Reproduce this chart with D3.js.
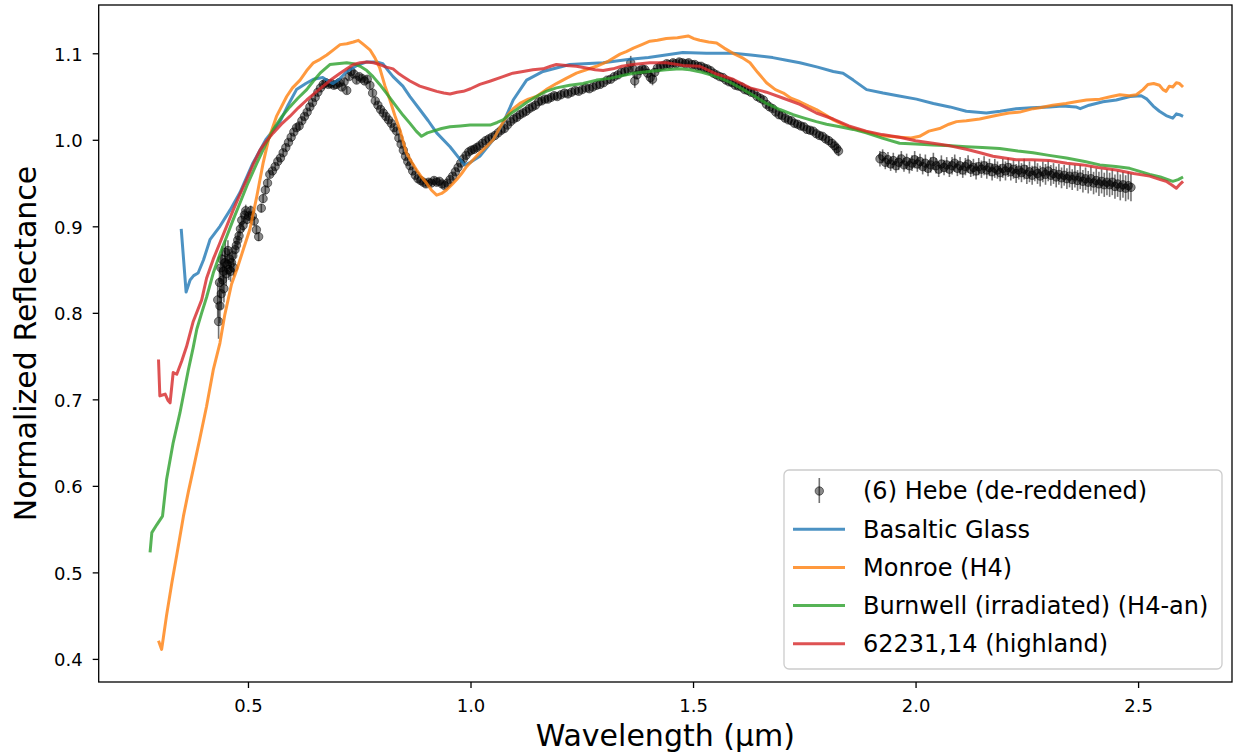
<!DOCTYPE html>
<html>
<head>
<meta charset="utf-8">
<script src="https://cdn.jsdelivr.net/npm/d3@7"></script>
<style>
  body { margin: 0; background: #fff; }
  svg { display: block; }
  text { font-family: "DejaVu Sans", sans-serif; fill: #000; }
</style>
</head>
<body>
<script>
// spectra: [wavelength (um), normalized reflectance]
var basalticGlass = [[0.350,0.897],[0.361,0.824],[0.370,0.838],[0.378,0.843],[0.388,0.846],[0.400,0.861],[0.415,0.885],[0.437,0.900],[0.460,0.919],[0.482,0.939],[0.511,0.973],[0.540,1.000],[0.572,1.021],[0.590,1.040],[0.609,1.058],[0.630,1.065],[0.647,1.070],[0.668,1.072],[0.680,1.068],[0.691,1.065],[0.705,1.070],[0.722,1.079],[0.745,1.086],[0.767,1.090],[0.789,1.090],[0.803,1.088],[0.815,1.080],[0.826,1.073],[0.848,1.062],[0.864,1.050],[0.886,1.035],[0.905,1.022],[0.924,1.008],[0.954,0.992],[0.980,0.975],[0.987,0.971],[1.000,0.974],[1.021,0.981],[1.051,1.000],[1.073,1.019],[1.096,1.046],[1.126,1.069],[1.163,1.079],[1.223,1.087],[1.298,1.089],[1.358,1.093],[1.400,1.095],[1.477,1.101],[1.530,1.100],[1.590,1.100],[1.630,1.098],[1.679,1.095],[1.710,1.092],[1.740,1.089],[1.780,1.084],[1.815,1.079],[1.837,1.077],[1.860,1.069],[1.890,1.058],[1.927,1.054],[1.960,1.051],[2.002,1.047],[2.040,1.042],[2.077,1.038],[2.114,1.033],[2.159,1.031],[2.190,1.033],[2.226,1.036],[2.260,1.037],[2.301,1.038],[2.330,1.039],[2.360,1.038],[2.370,1.036],[2.390,1.040],[2.421,1.044],[2.451,1.046],[2.482,1.050],[2.507,1.051],[2.520,1.047],[2.534,1.039],[2.548,1.033],[2.563,1.028],[2.578,1.025],[2.586,1.030],[2.593,1.029],[2.601,1.027]];

var monroe = [[0.299,0.421],[0.306,0.411],[0.310,0.425],[0.317,0.450],[0.329,0.488],[0.340,0.520],[0.355,0.565],[0.366,0.593],[0.377,0.619],[0.392,0.655],[0.407,0.692],[0.422,0.734],[0.437,0.765],[0.448,0.798],[0.463,0.833],[0.475,0.850],[0.490,0.874],[0.504,0.896],[0.520,0.935],[0.534,0.973],[0.546,1.000],[0.564,1.027],[0.587,1.050],[0.600,1.060],[0.617,1.069],[0.632,1.080],[0.647,1.089],[0.662,1.093],[0.677,1.098],[0.692,1.104],[0.707,1.110],[0.722,1.111],[0.737,1.113],[0.748,1.115],[0.760,1.110],[0.774,1.104],[0.785,1.095],[0.796,1.083],[0.808,1.062],[0.819,1.046],[0.830,1.028],[0.841,1.012],[0.856,0.985],[0.868,0.974],[0.879,0.965],[0.890,0.957],[0.901,0.950],[0.912,0.942],[0.924,0.936],[0.935,0.938],[0.946,0.942],[0.958,0.948],[0.969,0.954],[0.980,0.961],[0.991,0.969],[1.006,0.977],[1.021,0.985],[1.036,0.992],[1.051,1.000],[1.066,1.014],[1.081,1.027],[1.096,1.036],[1.111,1.042],[1.130,1.047],[1.148,1.050],[1.170,1.058],[1.193,1.065],[1.215,1.071],[1.238,1.077],[1.260,1.081],[1.283,1.085],[1.310,1.091],[1.336,1.099],[1.350,1.102],[1.366,1.106],[1.385,1.110],[1.403,1.114],[1.420,1.115],[1.440,1.117],[1.465,1.118],[1.489,1.120],[1.502,1.117],[1.515,1.115],[1.535,1.113],[1.553,1.112],[1.570,1.106],[1.590,1.100],[1.610,1.095],[1.628,1.089],[1.645,1.078],[1.665,1.066],[1.685,1.058],[1.703,1.054],[1.720,1.048],[1.740,1.044],[1.760,1.039],[1.777,1.035],[1.800,1.028],[1.815,1.023],[1.840,1.017],[1.860,1.013],[1.890,1.009],[1.920,1.005],[1.964,1.003],[1.990,1.002],[2.009,1.004],[2.030,1.010],[2.054,1.013],[2.075,1.018],[2.092,1.021],[2.114,1.022],[2.144,1.024],[2.170,1.027],[2.189,1.029],[2.210,1.031],[2.234,1.032],[2.264,1.036],[2.279,1.037],[2.308,1.040],[2.338,1.042],[2.360,1.044],[2.384,1.046],[2.414,1.047],[2.440,1.050],[2.459,1.052],[2.480,1.051],[2.496,1.052],[2.511,1.058],[2.522,1.064],[2.535,1.065],[2.548,1.063],[2.556,1.058],[2.563,1.056],[2.570,1.062],[2.578,1.061],[2.586,1.066],[2.593,1.065],[2.601,1.061]];

var burnwell = [[0.280,0.523],[0.284,0.546],[0.295,0.555],[0.308,0.565],[0.317,0.607],[0.332,0.650],[0.347,0.684],[0.355,0.705],[0.366,0.734],[0.377,0.760],[0.385,0.781],[0.396,0.800],[0.407,0.818],[0.422,0.846],[0.437,0.868],[0.452,0.888],[0.467,0.908],[0.482,0.927],[0.500,0.950],[0.520,0.973],[0.540,0.995],[0.557,1.012],[0.575,1.026],[0.594,1.038],[0.612,1.048],[0.632,1.058],[0.647,1.068],[0.662,1.077],[0.684,1.087],[0.700,1.088],[0.722,1.089],[0.737,1.088],[0.752,1.085],[0.767,1.080],[0.781,1.073],[0.796,1.064],[0.811,1.054],[0.834,1.038],[0.849,1.028],[0.864,1.019],[0.878,1.010],[0.890,1.004],[0.903,1.008],[0.916,1.010],[0.935,1.013],[0.954,1.015],[0.977,1.016],[0.999,1.017],[1.022,1.017],[1.044,1.017],[1.060,1.020],[1.073,1.023],[1.090,1.030],[1.104,1.035],[1.126,1.043],[1.148,1.050],[1.170,1.056],[1.193,1.060],[1.223,1.063],[1.253,1.065],[1.283,1.069],[1.313,1.071],[1.340,1.074],[1.366,1.077],[1.400,1.079],[1.440,1.081],[1.470,1.082],[1.493,1.081],[1.520,1.078],[1.553,1.073],[1.585,1.066],[1.613,1.058],[1.640,1.050],[1.665,1.042],[1.695,1.035],[1.725,1.029],[1.750,1.025],[1.777,1.021],[1.800,1.018],[1.830,1.015],[1.860,1.012],[1.889,1.008],[1.925,1.002],[1.964,0.996],[2.000,0.995],[2.039,0.994],[2.080,0.993],[2.114,0.992],[2.150,0.991],[2.189,0.990],[2.230,0.987],[2.264,0.985],[2.300,0.982],[2.339,0.979],[2.380,0.975],[2.414,0.971],[2.450,0.969],[2.481,0.967],[2.500,0.964],[2.526,0.960],[2.550,0.957],[2.578,0.952],[2.590,0.954],[2.601,0.957]];

var highland = [[0.299,0.746],[0.302,0.704],[0.308,0.705],[0.314,0.706],[0.320,0.699],[0.325,0.696],[0.332,0.731],[0.340,0.729],[0.351,0.744],[0.362,0.761],[0.377,0.790],[0.396,0.815],[0.407,0.840],[0.422,0.862],[0.437,0.881],[0.452,0.900],[0.467,0.919],[0.482,0.937],[0.497,0.954],[0.512,0.972],[0.527,0.988],[0.542,0.999],[0.557,1.008],[0.575,1.018],[0.594,1.027],[0.613,1.037],[0.632,1.046],[0.650,1.054],[0.669,1.062],[0.688,1.070],[0.707,1.077],[0.722,1.082],[0.737,1.087],[0.752,1.089],[0.767,1.090],[0.782,1.089],[0.796,1.087],[0.811,1.084],[0.826,1.082],[0.840,1.076],[0.849,1.073],[0.864,1.068],[0.886,1.062],[0.905,1.059],[0.924,1.056],[0.940,1.054],[0.954,1.053],[0.970,1.055],[0.984,1.056],[1.000,1.059],[1.021,1.064],[1.045,1.068],[1.073,1.073],[1.095,1.077],[1.118,1.079],[1.140,1.081],[1.163,1.082],[1.180,1.085],[1.193,1.087],[1.215,1.086],[1.238,1.085],[1.260,1.083],[1.280,1.081],[1.298,1.080],[1.320,1.082],[1.340,1.085],[1.365,1.087],[1.403,1.089],[1.440,1.089],[1.477,1.086],[1.515,1.085],[1.553,1.076],[1.590,1.070],[1.628,1.060],[1.665,1.055],[1.703,1.048],[1.740,1.041],[1.777,1.031],[1.815,1.024],[1.850,1.016],[1.889,1.010],[1.925,1.006],[1.964,1.003],[2.000,0.999],[2.039,0.996],[2.077,0.993],[2.114,0.989],[2.145,0.985],[2.174,0.981],[2.200,0.979],[2.226,0.977],[2.260,0.977],[2.301,0.976],[2.340,0.973],[2.376,0.971],[2.410,0.968],[2.451,0.965],[2.490,0.961],[2.526,0.958],[2.550,0.954],[2.563,0.952],[2.575,0.948],[2.586,0.944],[2.593,0.948],[2.601,0.952]];

// (6) Hebe: [wavelength, reflectance, error]
var hebeVis = [[0.432,0.815,0.02],[0.434,0.79,0.02],[0.436,0.835,0.018],[0.437,0.808,0.02],[0.439,0.852,0.016],[0.440,0.822,0.018],[0.442,0.862,0.015],[0.443,0.838,0.016],[0.445,0.848,0.015],[0.446,0.828,0.016],[0.448,0.858,0.014],[0.449,0.870,0.014],[0.451,0.845,0.014],[0.453,0.856,0.012],[0.455,0.872,0.012],[0.457,0.850,0.012],[0.459,0.862,0.012],[0.461,0.848,0.012],[0.463,0.858,0.011],[0.466,0.866,0.01],[0.468,0.852,0.01],[0.471,0.873,0.01],[0.474,0.878,0.009],[0.477,0.884,0.009],[0.480,0.889,0.008],[0.483,0.897,0.008],[0.486,0.907,0.008],[0.489,0.901,0.007],[0.492,0.913,0.007],[0.495,0.918,0.007],[0.498,0.908,0.006],[0.502,0.912,0.006],[0.506,0.918,0.006],[0.510,0.912,0.006],[0.514,0.906,0.005],[0.519,0.896,0.005],[0.524,0.888,0.005],[0.530,0.921,0.005],[0.534,0.932,0.005],[0.539,0.942,0.005],[0.544,0.950,0.005],[0.549,0.960,0.004],[0.555,0.964,0.004],[0.561,0.969,0.004],[0.567,0.975,0.004],[0.573,0.979,0.004],[0.579,0.985,0.004],[0.585,0.991,0.004],[0.591,0.997,0.004],[0.597,1.003,0.004],[0.603,1.009,0.004],[0.609,1.014,0.004],[0.615,1.016,0.004],[0.621,1.022,0.004],[0.627,1.027,0.004],[0.633,1.032,0.004],[0.639,1.038,0.004],[0.645,1.043,0.004],[0.651,1.049,0.004],[0.657,1.055,0.004],[0.663,1.060,0.004],[0.669,1.064,0.004],[0.675,1.066,0.004],[0.681,1.064,0.004],[0.687,1.065,0.004],[0.693,1.063,0.004],[0.699,1.064,0.004],[0.705,1.066,0.004],[0.711,1.061,0.004],[0.716,1.067,0.004],[0.722,1.057,0.004],[0.727,1.073,0.004],[0.732,1.079,0.004],[0.738,1.076,0.004],[0.744,1.069,0.004],[0.750,1.073,0.004],[0.756,1.071,0.004],[0.762,1.068,0.004],[0.768,1.070,0.004],[0.774,1.063,0.004],[0.780,1.054,0.004],[0.786,1.045,0.004],[0.792,1.040,0.004],[0.798,1.035,0.004],[0.804,1.031,0.004],[0.810,1.027,0.004],[0.816,1.023,0.004],[0.822,1.019,0.004],[0.828,1.014,0.004],[0.834,1.010,0.004],[0.839,1.002,0.004],[0.844,0.995,0.004],[0.849,0.988,0.004],[0.854,0.981,0.004],[0.859,0.975,0.004],[0.864,0.970,0.004],[0.870,0.964,0.004],[0.876,0.959,0.004],[0.882,0.955,0.004],[0.888,0.953,0.004],[0.894,0.951,0.004],[0.900,0.949,0.004],[0.906,0.951,0.004],[0.912,0.950,0.004],[0.918,0.953,0.004],[0.924,0.951,0.004],[0.930,0.952,0.004],[0.936,0.949,0.004],[0.942,0.947,0.004],[0.948,0.950,0.004],[0.954,0.954,0.004],[0.960,0.958,0.004],[0.966,0.963,0.004],[0.972,0.968,0.004],[0.978,0.973,0.004],[0.984,0.978,0.004],[0.990,0.982,0.004],[0.996,0.986,0.004],[1.002,0.988,0.004],[1.008,0.989,0.004],[1.014,0.991,0.004],[1.020,0.993,0.004],[1.027,0.996,0.004],[1.034,0.999,0.004],[1.041,1.001,0.004],[1.048,1.003,0.004],[1.055,1.005,0.004],[1.062,1.008,0.004],[1.069,1.011,0.004],[1.076,1.013,0.004],[1.083,1.017,0.004],[1.090,1.021,0.004],[1.097,1.024,0.004],[1.104,1.026,0.004],[1.111,1.029,0.004],[1.118,1.031,0.004],[1.125,1.033,0.004],[1.132,1.036,0.004],[1.139,1.038,0.004],[1.146,1.040,0.004],[1.153,1.044,0.004],[1.160,1.045,0.004],[1.167,1.047,0.004],[1.174,1.047,0.004],[1.181,1.049,0.004],[1.188,1.051,0.004],[1.195,1.050,0.004],[1.203,1.052,0.004],[1.211,1.054,0.004],[1.219,1.053,0.004],[1.227,1.055,0.004],[1.235,1.057,0.004],[1.243,1.056,0.004],[1.251,1.058,0.004],[1.259,1.060,0.004],[1.267,1.059,0.004],[1.275,1.061,0.004],[1.283,1.063,0.004],[1.291,1.064,0.004],[1.299,1.066,0.004],[1.307,1.069,0.004],[1.315,1.070,0.004],[1.323,1.073,0.004],[1.331,1.075,0.004],[1.339,1.078,0.004],[1.347,1.079,0.004],[1.354,1.081,0.005],[1.360,1.089,0.008],[1.365,1.082,0.006],[1.369,1.068,0.008],[1.374,1.075,0.005],[1.380,1.080,0.004],[1.386,1.082,0.004],[1.392,1.081,0.004],[1.398,1.077,0.005],[1.404,1.072,0.007],[1.409,1.070,0.007],[1.414,1.078,0.005],[1.420,1.083,0.004],[1.427,1.085,0.004],[1.434,1.086,0.004],[1.441,1.088,0.004],[1.448,1.087,0.004],[1.455,1.089,0.004],[1.462,1.088,0.004],[1.469,1.090,0.004],[1.476,1.089,0.004],[1.483,1.088,0.004],[1.490,1.089,0.004],[1.497,1.087,0.004],[1.504,1.087,0.004],[1.511,1.085,0.004],[1.518,1.085,0.004],[1.525,1.083,0.004],[1.532,1.082,0.004],[1.539,1.080,0.004],[1.546,1.077,0.004],[1.553,1.075,0.004],[1.560,1.073,0.004],[1.567,1.072,0.004],[1.574,1.069,0.004],[1.581,1.067,0.004],[1.588,1.066,0.004],[1.595,1.063,0.004],[1.602,1.062,0.004],[1.609,1.061,0.004],[1.616,1.058,0.004],[1.623,1.057,0.004],[1.630,1.055,0.004],[1.637,1.054,0.004],[1.644,1.050,0.004],[1.651,1.048,0.004],[1.658,1.046,0.004],[1.665,1.041,0.004],[1.672,1.038,0.004],[1.679,1.036,0.004],[1.686,1.032,0.004],[1.693,1.029,0.004],[1.700,1.028,0.004],[1.707,1.025,0.004],[1.714,1.023,0.004],[1.721,1.022,0.004],[1.728,1.019,0.004],[1.735,1.018,0.004],[1.742,1.016,0.004],[1.749,1.015,0.004],[1.756,1.012,0.004],[1.763,1.011,0.004],[1.770,1.010,0.004],[1.777,1.007,0.004],[1.784,1.005,0.004],[1.791,1.004,0.004],[1.798,1.001,0.004],[1.805,0.999,0.005],[1.812,0.996,0.005],[1.818,0.993,0.005],[1.823,0.990,0.006],[1.827,0.987,0.006]];

var hebeNir = [[1.920,0.978,0.009],[1.926,0.981,0.008],[1.932,0.974,0.008],[1.938,0.977,0.009],[1.944,0.972,0.008],[1.950,0.976,0.009],[1.956,0.970,0.008],[1.962,0.974,0.009],[1.968,0.978,0.009],[1.974,0.971,0.008],[1.980,0.975,0.009],[1.986,0.970,0.009],[1.992,0.973,0.009],[1.998,0.977,0.010],[2.004,0.972,0.009],[2.010,0.975,0.009],[2.016,0.969,0.009],[2.022,0.973,0.010],[2.028,0.967,0.009],[2.034,0.971,0.009],[2.040,0.975,0.010],[2.046,0.970,0.009],[2.052,0.966,0.009],[2.058,0.972,0.010],[2.064,0.968,0.009],[2.070,0.971,0.009],[2.076,0.966,0.009],[2.082,0.970,0.010],[2.088,0.973,0.010],[2.094,0.967,0.009],[2.100,0.970,0.010],[2.106,0.965,0.009],[2.112,0.969,0.010],[2.118,0.972,0.010],[2.124,0.966,0.009],[2.130,0.968,0.010],[2.136,0.964,0.010],[2.142,0.969,0.010],[2.148,0.966,0.010],[2.154,0.970,0.011],[2.160,0.965,0.010],[2.166,0.968,0.010],[2.172,0.963,0.010],[2.178,0.967,0.011],[2.184,0.965,0.010],[2.190,0.962,0.010],[2.196,0.967,0.011],[2.202,0.964,0.011],[2.208,0.968,0.011],[2.214,0.963,0.010],[2.220,0.966,0.011],[2.226,0.961,0.011],[2.232,0.965,0.011],[2.238,0.962,0.011],[2.244,0.966,0.012],[2.250,0.960,0.011],[2.256,0.963,0.012],[2.262,0.959,0.011],[2.268,0.964,0.012],[2.274,0.961,0.012],[2.280,0.958,0.012],[2.286,0.963,0.012],[2.292,0.960,0.012],[2.298,0.964,0.012],[2.304,0.959,0.012],[2.310,0.961,0.012],[2.316,0.957,0.012],[2.322,0.960,0.012],[2.328,0.956,0.012],[2.334,0.959,0.012],[2.340,0.955,0.012],[2.346,0.958,0.013],[2.352,0.954,0.012],[2.358,0.958,0.013],[2.364,0.953,0.012],[2.370,0.957,0.014],[2.376,0.952,0.013],[2.382,0.955,0.013],[2.388,0.951,0.013],[2.394,0.955,0.014],[2.400,0.950,0.013],[2.406,0.953,0.014],[2.412,0.949,0.014],[2.418,0.952,0.014],[2.424,0.948,0.014],[2.430,0.951,0.015],[2.436,0.948,0.014],[2.442,0.951,0.015],[2.448,0.946,0.014],[2.454,0.949,0.015],[2.460,0.945,0.015],[2.466,0.948,0.015],[2.472,0.944,0.015],[2.478,0.947,0.016],[2.484,0.945,0.016]];

var xTicks = [0.5, 1.0, 1.5, 2.0, 2.5];
var yTicks = [0.4, 0.5, 0.6, 0.7, 0.8, 0.9, 1.0, 1.1];
var seriesNames = ['Basaltic Glass', 'Monroe (H4)', 'Burnwell (irradiated) (H4-an)', '62231,14 (highland)'];
var hebeName = '(6) Hebe (de-reddened)';

var lines = [
  { name: seriesNames[0], values: basalticGlass, color: '#1f77b4' },
  { name: seriesNames[1], values: monroe, color: '#ff7f0e' },
  { name: seriesNames[2], values: burnwell, color: '#2ca02c' },
  { name: seriesNames[3], values: highland, color: '#d62728' }
];

var plot = { left: 98.7, top: 5, right: 1232, bottom: 682 };

var svg = d3.select('body').append('svg')
  .attr('width', 1233)
  .attr('height', 755);

var x = d3.scaleLinear().domain([0.1646, 2.711]).range([plot.left, plot.right]);
var y = d3.scaleLinear().domain([0.3733, 1.1558]).range([plot.bottom, plot.top]);

// errorbar points first, lines drawn over them
var hebe = hebeVis.concat(hebeNir);
var hebeG = svg.append('g');

hebeG.selectAll('line')
  .data(hebe)
  .enter()
  .append('line')
  .attr('x1', function(d) { return x(d[0]); })
  .attr('x2', function(d) { return x(d[0]); })
  .attr('y1', function(d) { return y(d[1] - d[2]); })
  .attr('y2', function(d) { return y(d[1] + d[2]); })
  .attr('stroke', '#000')
  .attr('stroke-opacity', 0.55)
  .attr('stroke-width', 1.6);

hebeG.selectAll('circle')
  .data(hebe)
  .enter()
  .append('circle')
  .attr('cx', function(d) { return x(d[0]); })
  .attr('cy', function(d) { return y(d[1]); })
  .attr('r', 4.2)
  .attr('fill', '#000')
  .attr('fill-opacity', 0.45)
  .attr('stroke', '#000')
  .attr('stroke-opacity', 0.5)
  .attr('stroke-width', 1);

var line = d3.line()
  .x(function(d) { return x(d[0]); })
  .y(function(d) { return y(d[1]); });

svg.append('g')
  .selectAll('path')
  .data(lines)
  .enter()
  .append('path')
  .attr('d', function(d) { return line(d.values); })
  .attr('fill', 'none')
  .attr('stroke', function(d) { return d.color; })
  .attr('stroke-opacity', 0.8)
  .attr('stroke-width', 3)
  .attr('stroke-linejoin', 'round');

// axes
var xAxis = svg.append('g')
  .attr('transform', 'translate(0,' + plot.bottom + ')')
  .call(d3.axisBottom(x).tickValues(xTicks).tickFormat(d3.format('.1f')).tickSize(6).tickPadding(11).tickSizeOuter(0));

var yAxis = svg.append('g')
  .attr('transform', 'translate(' + plot.left + ',0)')
  .call(d3.axisLeft(y).tickValues(yTicks).tickFormat(d3.format('.1f')).tickSize(6).tickPadding(10).tickSizeOuter(0));

[xAxis, yAxis].forEach(function(a) {
  a.selectAll('text').attr('font-size', '18px').attr('fill', '#000')
    .attr('font-family', '"DejaVu Sans", sans-serif');
  a.selectAll('line').attr('stroke', '#000').attr('stroke-width', 1.3);
  a.select('.domain').remove();
});
yAxis.selectAll('text').attr('dy', '0.38em');

svg.append('rect')
  .attr('x', plot.left)
  .attr('y', plot.top)
  .attr('width', plot.right - plot.left)
  .attr('height', plot.bottom - plot.top)
  .attr('fill', 'none')
  .attr('stroke', '#000')
  .attr('stroke-width', 1.3);

svg.append('text')
  .attr('x', (plot.left + plot.right) / 2)
  .attr('y', 746)
  .attr('text-anchor', 'middle')
  .attr('font-size', '30px')
  .text('Wavelength (\u00b5m)');

svg.append('text')
  .attr('transform', 'translate(36,' + (plot.top + plot.bottom) / 2 + ') rotate(-90)')
  .attr('text-anchor', 'middle')
  .attr('font-size', '30px')
  .text('Normalized Reflectance');

// legend
var legend = svg.append('g').attr('transform', 'translate(784,470)');

legend.append('rect')
  .attr('width', 438)
  .attr('height', 199)
  .attr('rx', 5)
  .attr('fill', '#fff')
  .attr('fill-opacity', 0.8)
  .attr('stroke', '#cccccc')
  .attr('stroke-width', 1.3);

var rowH = 38.2;
var rows = [hebeName].concat(seriesNames);

legend.selectAll('text')
  .data(rows)
  .enter()
  .append('text')
  .attr('x', 79)
  .attr('y', function(d, i) { return 21 + i * rowH + 8.3; })
  .attr('font-size', '24px')
  .text(function(d) { return d; });

legend.append('line')
  .attr('x1', 35.3).attr('x2', 35.3)
  .attr('y1', 8).attr('y2', 33)
  .attr('stroke', '#000').attr('stroke-opacity', 0.55).attr('stroke-width', 1.6);
legend.append('circle')
  .attr('cx', 35.3).attr('cy', 21).attr('r', 4.2)
  .attr('fill', '#000').attr('fill-opacity', 0.45)
  .attr('stroke', '#000').attr('stroke-opacity', 0.5);

legend.selectAll('line.key')
  .data(lines)
  .enter()
  .append('line')
  .attr('class', 'key')
  .attr('x1', 9)
  .attr('x2', 61)
  .attr('y1', function(d, i) { return 21 + (i + 1) * rowH; })
  .attr('y2', function(d, i) { return 21 + (i + 1) * rowH; })
  .attr('stroke', function(d) { return d.color; })
  .attr('stroke-opacity', 0.8)
  .attr('stroke-width', 3);
</script>
</body>
</html>
